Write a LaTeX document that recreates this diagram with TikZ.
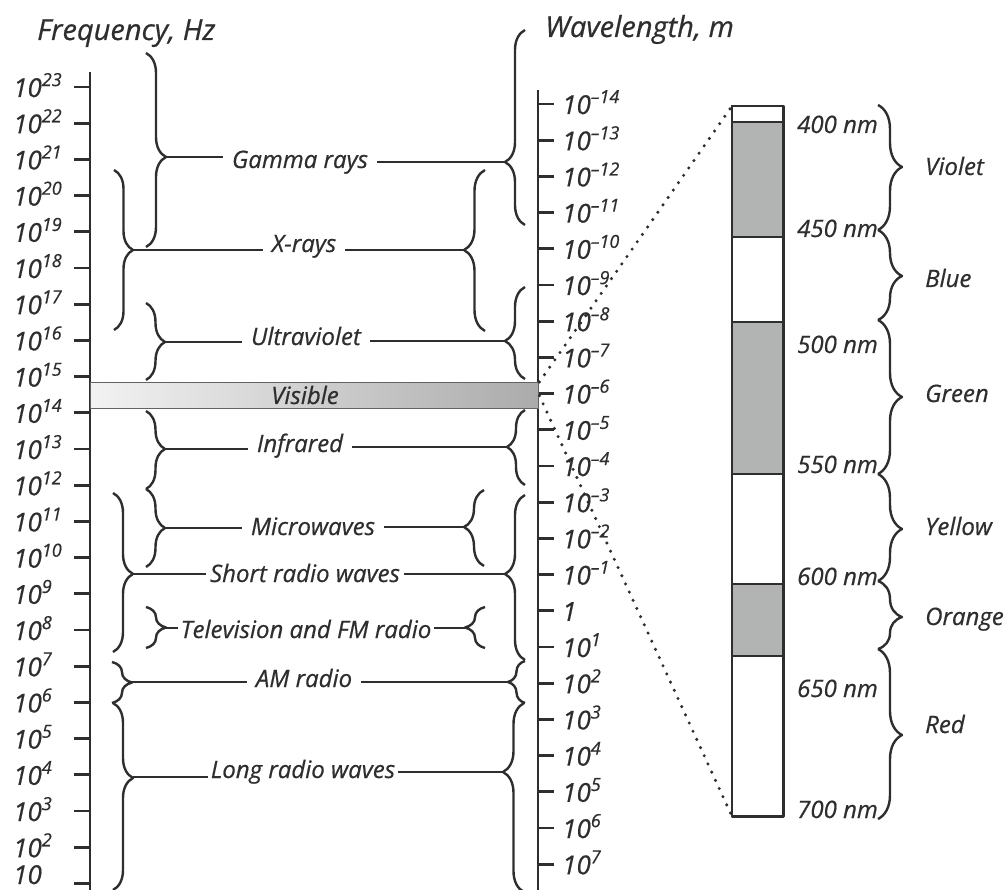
\documentclass[tikz,border=0pt]{standalone}
\usepackage{fontspec}
\setmainfont{Open Sans}[ItalicFeatures={FakeBold=0.6}]
\usetikzlibrary{decorations.pathreplacing}
\definecolor{ink}{HTML}{2E2E2E}
\definecolor{band}{HTML}{B2B4B3}
\newcommand\ten[1]{10\raisebox{0.42em}{\fontsize{18}{18}\selectfont #1}}
\begin{document}
\begin{tikzpicture}[x=1pt,y=-1pt,line join=round,
  ln/.style={draw=ink,line width=2.4pt},
  ax/.style={draw=ink,line width=2.7pt},
  brc/.style={draw=ink,line width=2.4pt,decorate,decoration={brace,amplitude=#1}},
  lbl/.style={font=\fontsize{24}{28}\selectfont\itshape,text=ink,inner xsep=9pt,inner ysep=0pt,anchor=base},
  tkl/.style={font=\fontsize{26}{30}\selectfont\itshape,text=ink,inner sep=0pt,anchor=base west},
  nml/.style={font=\fontsize{24}{28}\selectfont\itshape,text=ink,inner sep=0pt,anchor=base west},
  hd/.style={font=\fontsize{29}{34}\selectfont\itshape,text=ink,inner sep=0pt,anchor=base west},
  bandbox/.style={draw=ink,line width=2.4pt},
  dot/.style={draw=ink,line width=3.4pt,line cap=round,dash pattern=on 0pt off 9pt}]
\useasboundingbox (0,0) rectangle (1004,890);

% headings
\node[hd] (fh) at (37,40) {Frequency, Hz};
\node[hd] (wh) at (545,37) {Wavelength, m};

% frequency axis
\draw[ax] (90,72) -- (90,892);
\foreach \n in {2,...,23}{
  \pgfmathsetmacro\y{87+36.2*(23-\n)}
  \draw[ax] (74,\y) -- (90,\y);
  \node[tkl] (f\n) at (13,\y+10) {\ten{\n}};
}
\draw[ax] (74,883.4) -- (90,883.4);
\node[tkl] (f1) at (13,884) {10};

% wavelength axis
\draw[ax] (538,90) -- (538,892);
\foreach \k in {-14,...,7}{
  \pgfmathsetmacro\y{104+36.2*(\k+14)}
  \pgfmathtruncatemacro\i{\k+14}
  \draw[ax] (538,\y) -- (554,\y);
  \node[tkl] (w\i) at (562,\y+10) {\ifnum\k<0 \ten{\textendash\the\numexpr-\k\relax}\else\ifnum\k=0 1\else\ten{\k}\fi\fi};
}

% visible bar
\node[draw=ink!75,line width=1.4pt,left color=black!5,right color=black!33,minimum width=448pt,minimum height=26pt,inner sep=0pt,anchor=north west] (vis) at (90,382) {};
\node[lbl] (vist) at (305,404) {Visible};

% Gamma rays
\node[lbl] (gam) at (300,168) {Gamma rays};
\draw[brc=20,decoration={aspect=0.536}] (146,53) -- (146,247);
\coordinate (gamL) at (166,157);
\draw[ln] (gamL) -- (gamL -| gam.west);
\draw[brc=20,decoration={aspect=0.323}] (525,225) -- (525,30);
\coordinate (gamR) at (505,162);
\draw[ln] (gamR -| gam.east) -- (gamR);

% X-rays
\node[lbl] (xr) at (304,252) {X-rays};
\draw[brc=19,decoration={aspect=0.5}] (114,170) -- (114,330);
\coordinate (xrL) at (133,250);
\draw[ln] (xrL) -- (xrL -| xr.west);
\draw[brc=21,decoration={aspect=0.503}] (485,331) -- (485,170);
\coordinate (xrR) at (464,250);
\draw[ln] (xrR -| xr.east) -- (xrR);

% Ultraviolet
\node[lbl] (uv) at (306,345) {Ultraviolet};
\draw[brc=19,decoration={aspect=0.506}] (146,303) -- (146,380);
\coordinate (uvL) at (165,342);
\draw[ln] (uvL) -- (uvL -| uv.west);
\draw[brc=20,decoration={aspect=0.413}] (525,379) -- (525,287);
\coordinate (uvR) at (505,341);
\draw[ln] (uvR -| uv.east) -- (uvR);

% Infrared
\node[lbl] (ir) at (300,452) {Infrared};
\draw[brc=19,decoration={aspect=0.487}] (146,411) -- (146,489);
\coordinate (irL) at (165,449);
\draw[ln] (irL) -- (irL -| ir.west);
\draw[brc=18,decoration={aspect=0.507}] (525,485) -- (525,410);
\coordinate (irR) at (507,447);
\draw[ln] (irR -| ir.east) -- (irR);

% Microwaves
\node[lbl] (mw) at (313,535) {Microwaves};
\draw[brc=19,decoration={aspect=0.5}] (146,489) -- (146,567);
\coordinate (mwL) at (165,528);
\draw[ln] (mwL) -- (mwL -| mw.west);
\draw[brc=20,decoration={aspect=0.513}] (484,566) -- (484,490);
\coordinate (mwR) at (464,527);
\draw[ln] (mwR -| mw.east) -- (mwR);

% Short radio waves
\node[lbl,inner xsep=4pt] (sr) at (305,582) {Short radio waves};
\draw[brc=20,decoration={aspect=0.509}] (113,493) -- (113,652);
\coordinate (srL) at (133,574);
\draw[ln] (srL) -- (srL -| sr.west);
\draw[brc=20,decoration={aspect=0.521}] (525,660) -- (525,495);
\coordinate (srR) at (505,574);
\draw[ln] (srR -| sr.east) -- (srR);

% Television and FM radio
\node[lbl,inner xsep=2pt] (tv) at (306,638) {Television and FM radio};
\draw[brc=20,decoration={aspect=0.5}] (146,607) -- (146,648);
\coordinate (tvL) at (166,628);
\draw[ln] (tvL) -- (tvL -| tv.west);
\draw[brc=20,decoration={aspect=0.5}] (485,648) -- (485,607);
\coordinate (tvR) at (465,628);
\draw[ln] (tvR -| tv.east) -- (tvR);

% AM radio
\node[lbl] (am) at (304,687) {AM radio};
\draw[brc=20,decoration={aspect=0.5}] (112,662) -- (112,703);
\coordinate (amL) at (132,682);
\draw[ln] (amL) -- (amL -| am.west);
\draw[brc=17,decoration={aspect=0.5}] (525,703) -- (525,661);
\coordinate (amR) at (508,682);
\draw[ln] (amR -| am.east) -- (amR);

% Long radio waves
\node[lbl,inner xsep=3pt] (lr) at (303,778) {Long radio waves};
\draw[brc=20,decoration={aspect=0.401}] (113,703) -- (113,890);
\coordinate (lrL) at (133,777);
\draw[ln] (lrL) -- (lrL -| lr.west);
\draw[brc=21,decoration={aspect=0.635}] (524,892) -- (524,703);
\coordinate (lrR) at (503,772);
\draw[ln] (lrR -| lr.east) -- (lrR);

% visible spectrum column
\node[minimum width=51pt,minimum height=710pt,inner sep=0pt,anchor=north west] (spec) at (732,106) {};
\draw[bandbox,fill=white] (732,106) rectangle (783,122);
\draw[bandbox,fill=band] (732,122) rectangle (783,237);
\draw[bandbox,fill=white] (732,237) rectangle (783,322);
\draw[bandbox,fill=band] (732,322) rectangle (783,474);
\draw[bandbox,fill=white] (732,474) rectangle (783,584);
\draw[bandbox,fill=band] (732,584) rectangle (783,656);
\draw[bandbox,fill=white] (732,656) rectangle (783,816);
\draw[bandbox] (spec.north west) rectangle (spec.south east);

\draw[dot] (vis.north east) -- (spec.north west);
\draw[dot] (vis.east) -- (spec.south west);

% wavelength labels
\node[nml] (n400) at (797,133) {400 nm};
\node[nml] (n450) at (797,237) {450 nm};
\node[nml] (n500) at (797,353) {500 nm};
\node[nml] (n550) at (797,473) {550 nm};
\node[nml] (n600) at (797,585) {600 nm};
\node[nml] (n650) at (797,697) {650 nm};
\node[nml] (n700) at (797,818) {700 nm};

% colour braces
\draw[brc=24,decoration={aspect=0.496}] (878,105) -- (878,230);
\draw[brc=24,decoration={aspect=0.511}] (878,230) -- (878,320);
\draw[brc=24,decoration={aspect=0.5}] (878,320) -- (878,474);
\draw[brc=24,decoration={aspect=0.514}] (878,474) -- (878,581);
\draw[brc=24,decoration={aspect=0.53}] (878,581) -- (878,649);
\draw[brc=24,decoration={aspect=0.506}] (878,649) -- (878,819);

\node[nml] (cv) at (925,175) {Violet};
\node[nml] (cb) at (925,287) {Blue};
\node[nml] (cg) at (925,402) {Green};
\node[nml] (cy) at (925,535) {Yellow};
\node[nml] (co) at (925,625) {Orange};
\node[nml] (cr) at (925,733) {Red};
\end{tikzpicture}
\end{document}
